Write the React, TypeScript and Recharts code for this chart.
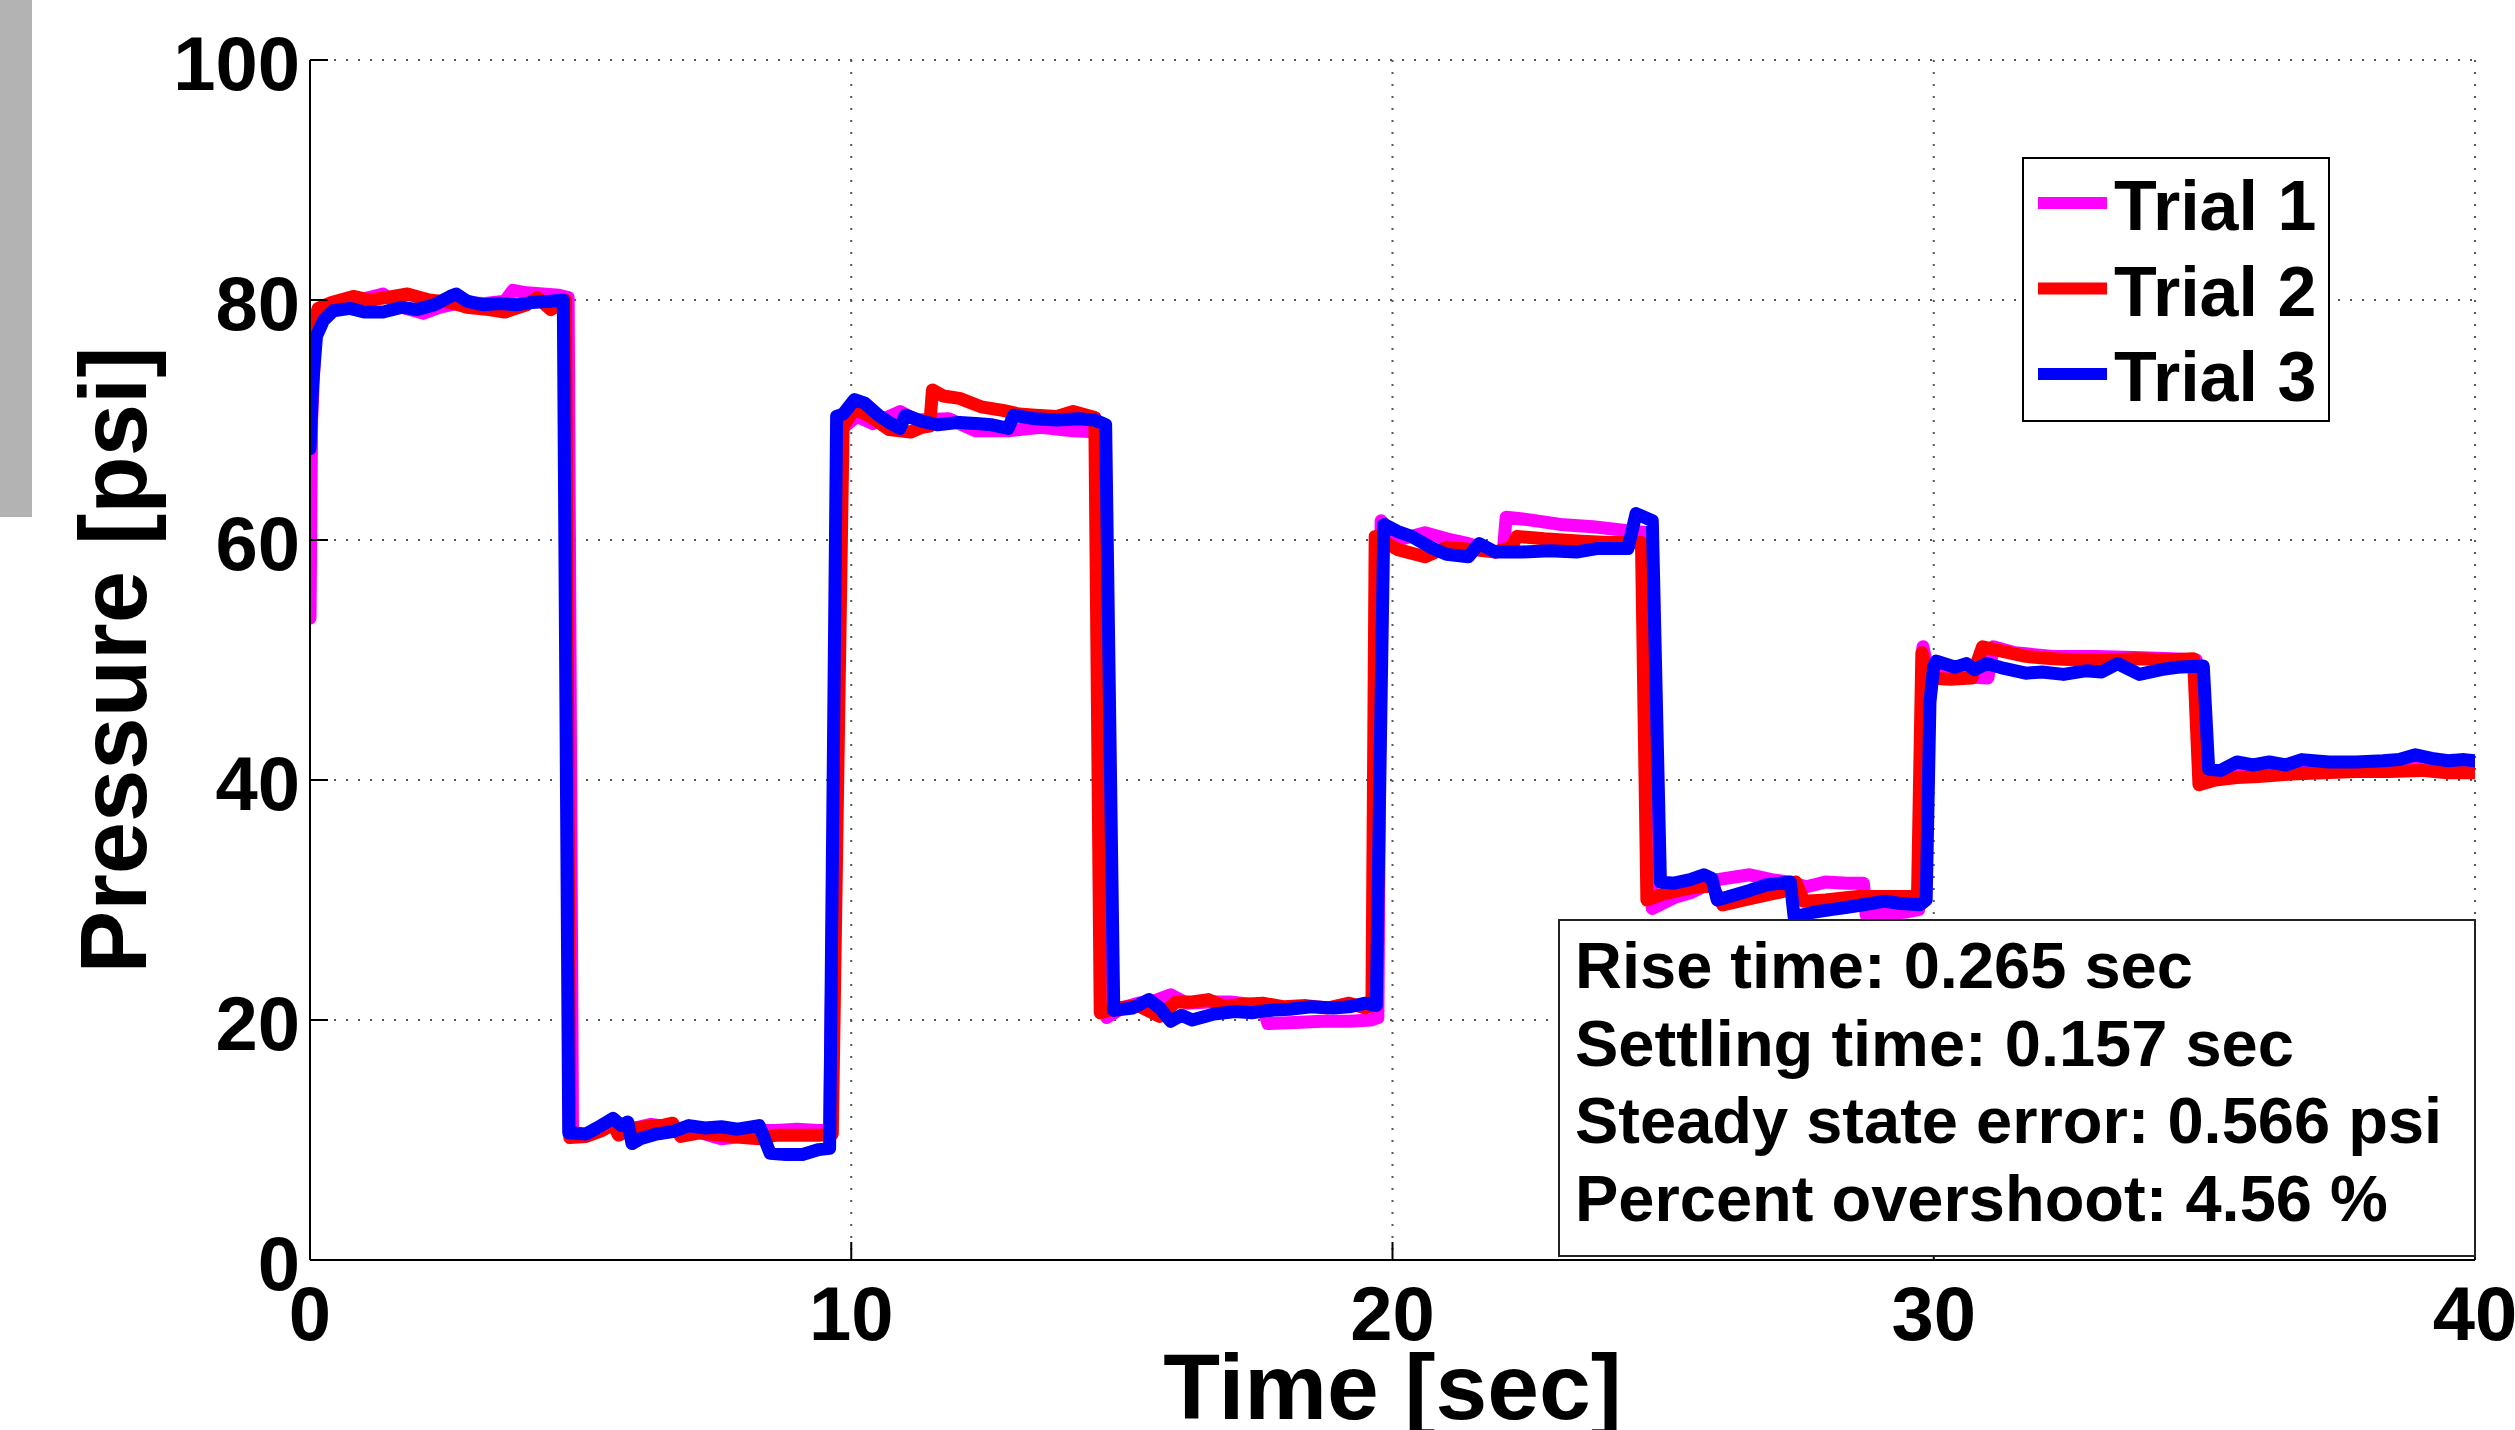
import React from 'react';
import { LineChart, Line, XAxis, YAxis, CartesianGrid, Legend, Label } from 'recharts';

// ---- data (time [sec], pressure [psi]) ----
const trial1: [number, number][] = [
  [0, 53.5], [0.03, 70], [0.1, 77.5], [0.3, 79.3], [0.6, 79.9], [1.0, 80.1], [1.35, 80.5], [1.7, 79.4], [2.1, 78.9],
  [2.4, 79.4], [2.8, 79.8], [3.2, 79.7], [3.6, 79.9], [3.75, 80.8], [4.0, 80.6], [4.3, 80.5], [4.6, 80.4], [4.77, 80.2],
  [4.85, 10.5], [5.1, 10.4], [5.4, 11.0], [5.7, 11.3], [6.0, 11.0], [6.3, 11.3], [6.6, 11.1], [6.9, 10.9], [7.3, 10.5],
  [7.6, 10.1], [8.0, 10.3], [8.3, 10.8], [8.6, 10.8], [9.0, 10.9], [9.4, 10.8], [9.6, 10.9],
  [9.78, 69.1], [10.1, 70.3], [10.4, 69.7], [10.9, 70.7], [11.2, 70.0], [11.8, 70.1], [12.3, 69.1], [12.9, 69.1],
  [13.5, 69.4], [14.1, 69.1], [14.6, 69.0],
  [14.72, 20.2], [15.0, 21.0], [15.3, 21.4], [15.6, 21.6], [15.9, 22.1], [16.2, 21.4], [16.6, 21.5], [17.0, 21.5],
  [17.4, 21.3], [17.6, 21.2], [17.7, 19.7], [18.2, 19.8], [18.7, 19.9], [19.2, 19.9], [19.6, 20.0], [19.73, 20.2],
  [19.79, 61.6], [20.1, 60.0], [20.6, 60.6], [21.0, 60.1], [21.4, 59.7], [21.9, 59.0], [22.05, 59.2], [22.1, 61.9],
  [22.5, 61.7], [23.1, 61.3], [23.7, 61.1], [24.3, 60.8], [24.72, 60.6],
  [24.8, 29.3], [25.2, 30.2], [25.5, 30.6], [26.0, 31.7], [26.6, 32.1], [27.0, 31.7], [27.3, 31.5], [27.65, 31.1],
  [28.0, 31.5], [28.4, 31.4], [28.7, 31.4], [28.75, 28.75], [29.2, 28.9], [29.5, 29.0], [29.72, 29.2],
  [29.8, 51.1], [29.9, 49.0], [30.3, 48.8], [30.6, 48.6], [31.0, 48.5], [31.1, 51.1], [31.5, 50.6], [32.2, 50.3],
  [33.0, 50.3], [33.7, 50.2], [34.4, 50.1], [34.85, 50.0],
  [34.92, 40.0], [35.3, 40.4], [35.8, 40.5], [36.4, 40.7], [37.0, 40.8], [37.7, 40.9], [38.4, 40.9], [39.0, 41.0],
  [39.5, 40.9], [40.0, 41.0],
];

const trial2: [number, number][] = [
  [0, 75.5], [0.06, 78], [0.15, 79.3], [0.4, 79.8], [0.8, 80.3], [1.1, 80.0], [1.4, 80.2], [1.8, 80.5], [2.2, 80.0],
  [2.6, 79.8], [2.9, 79.4], [3.3, 79.2], [3.6, 79.0], [4.0, 79.6], [4.2, 80.2], [4.45, 79.2], [4.72, 80.0],
  [4.8, 10.2], [5.1, 10.3], [5.4, 10.8], [5.6, 11.3], [5.7, 10.4], [5.9, 10.9], [6.2, 11.1], [6.5, 11.2], [6.7, 11.4],
  [6.85, 10.3], [7.2, 10.6], [7.6, 10.4], [8.0, 10.2], [8.3, 10.1], [8.6, 10.4], [9.0, 10.4], [9.4, 10.4], [9.65, 10.5],
  [9.85, 69.5], [10.06, 70.9], [10.35, 70.3], [10.7, 69.2], [11.1, 69.0], [11.3, 69.4], [11.45, 69.5], [11.5, 72.5],
  [11.7, 72.0], [12.0, 71.8], [12.4, 71.1], [12.8, 70.8], [13.1, 70.5], [13.4, 70.4], [13.8, 70.3], [14.1, 70.7], [14.5, 70.2],
  [14.6, 20.6], [14.9, 21.0], [15.3, 21.2], [15.7, 20.3], [16.0, 21.5], [16.3, 21.5], [16.6, 21.7], [16.9, 21.1],
  [17.2, 21.3], [17.6, 21.4], [18.0, 21.1], [18.4, 21.2], [18.8, 21.0], [19.2, 21.4], [19.5, 21.0], [19.62, 21.2],
  [19.68, 60.3], [20.1, 59.2], [20.6, 58.6], [21.0, 59.4], [21.5, 59.2], [21.9, 59.0], [22.2, 59.4], [22.3, 60.3],
  [22.8, 60.1], [23.5, 59.9], [24.0, 59.8], [24.6, 59.8],
  [24.7, 30.0], [25.0, 30.5], [25.5, 31.0], [25.9, 31.25], [26.1, 29.6], [26.5, 30.0], [27.0, 30.5], [27.2, 30.7],
  [27.45, 31.5], [27.6, 29.9], [28.0, 30.0], [28.6, 30.3], [29.2, 30.3], [29.7, 30.3],
  [29.78, 50.6], [29.9, 48.5], [30.3, 48.4], [30.7, 48.5], [30.9, 51.1], [31.3, 50.7], [31.7, 50.3], [32.2, 50.1],
  [32.7, 50.0], [33.2, 50.0], [33.8, 50.1], [34.3, 50.0], [34.8, 50.1],
  [34.9, 39.6], [35.2, 40.0], [35.6, 40.2], [36.0, 40.3], [36.6, 40.5], [37.2, 40.6], [37.8, 40.7], [38.4, 40.7],
  [39.0, 40.8], [39.5, 40.6], [40.0, 40.6],
];

const trial3: [number, number][] = [
  [0, 67.6], [0.05, 73], [0.12, 77.0], [0.25, 78.3], [0.43, 79.1], [0.74, 79.3], [1.0, 79.0], [1.35, 79.0], [1.7, 79.4],
  [1.97, 79.2], [2.3, 79.6], [2.59, 80.3], [2.7, 80.5], [2.9, 79.9], [3.2, 79.6], [3.5, 79.7], [3.82, 79.6], [4.1, 79.8],
  [4.44, 79.9], [4.68, 80.0],
  [4.78, 10.6], [5.1, 10.5], [5.3, 11.0], [5.6, 11.8], [5.75, 11.2], [5.87, 11.5], [5.95, 9.7], [6.1, 10.1], [6.4, 10.5],
  [6.7, 10.7], [7.0, 11.2], [7.3, 11.0], [7.6, 11.1], [7.9, 10.9], [8.3, 11.2], [8.5, 8.9], [8.8, 8.8], [9.1, 8.8],
  [9.4, 9.2], [9.6, 9.3],
  [9.73, 70.3], [9.85, 70.5], [10.06, 71.7], [10.25, 71.4], [10.5, 70.4], [10.7, 69.8], [10.9, 69.3], [11.0, 70.4],
  [11.3, 69.9], [11.6, 69.6], [12.0, 69.8], [12.3, 69.7], [12.6, 69.6], [12.9, 69.3], [13.0, 70.4], [13.4, 70.1],
  [13.8, 70.0], [14.2, 70.1], [14.5, 70.0], [14.7, 69.6],
  [14.85, 20.8], [15.2, 21.0], [15.5, 21.7], [15.7, 21.0], [15.9, 19.9], [16.1, 20.4], [16.3, 20.0], [16.7, 20.5],
  [17.1, 20.7], [17.4, 20.6], [17.7, 20.8], [18.1, 20.9], [18.5, 21.1], [18.9, 21.0], [19.2, 21.1], [19.5, 21.4], [19.7, 21.2],
  [19.84, 61.3], [20.1, 60.7], [20.35, 60.3], [20.7, 59.4], [21.0, 58.8], [21.4, 58.6], [21.6, 59.7], [21.9, 59.0],
  [22.4, 59.0], [22.9, 59.1], [23.4, 59.0], [23.8, 59.3], [24.35, 59.3], [24.5, 62.2], [24.8, 61.6],
  [24.95, 31.5], [25.2, 31.4], [25.5, 31.7], [25.75, 32.1], [25.9, 31.8], [26.0, 30.0], [26.3, 30.4], [26.6, 30.8],
  [26.9, 31.25], [27.35, 31.5], [27.42, 28.6], [27.8, 29.0], [28.1, 29.2], [28.4, 29.4], [28.7, 29.6], [29.1, 29.9],
  [29.4, 29.7], [29.75, 29.6], [29.86, 30.0],
  [29.93, 46.5], [30.0, 49.5], [30.05, 49.9], [30.4, 49.4], [30.6, 49.7], [30.75, 49.2], [30.98, 49.7], [31.3, 49.3],
  [31.7, 48.9], [32.0, 49.0], [32.4, 48.8], [32.8, 49.1], [33.1, 49.0], [33.4, 49.7], [33.8, 48.8], [34.2, 49.2],
  [34.5, 49.4], [34.98, 49.5],
  [35.08, 40.9], [35.3, 40.8], [35.6, 41.5], [35.9, 41.25], [36.2, 41.5], [36.5, 41.25], [36.8, 41.7], [37.3, 41.5],
  [37.8, 41.5], [38.3, 41.6], [38.6, 41.7], [38.9, 42.1], [39.2, 41.8], [39.5, 41.6], [39.8, 41.7], [40.0, 41.6],
];

const seriesNames = ['Trial 1', 'Trial 2', 'Trial 3'];
const seriesColors = ['#FF00FF', '#FF0000', '#0000FF'];
const xTicks = [0, 10, 20, 30, 40];
const yTicks = [0, 20, 40, 60, 80, 100];
const statsLines = [
  'Rise time: 0.265 sec',
  'Settling time: 0.157 sec',
  'Steady state error: 0.566 psi',
  'Percent overshoot: 4.56 %',
];

const toRows = (arr: [number, number][]) => arr.map(([t, p]) => ({ t, p }));
const seriesData = [toRows(trial1), toRows(trial2), toRows(trial3)];

const FONT = '"Liberation Sans", Arial, Helvetica, sans-serif';

const YTick = (props: any) => {
  const { x, y, payload } = props;
  return (
    <text x={x} y={y + 30} textAnchor="end" fontSize={76} fontWeight="bold" fontFamily={FONT} fill="#000">
      {payload.value}
    </text>
  );
};

const XTick = (props: any) => {
  const { x, y, payload } = props;
  return (
    <text x={x} y={y + 80} textAnchor="middle" fontSize={76} fontWeight="bold" fontFamily={FONT} fill="#000">
      {payload.value}
    </text>
  );
};

const NoTick = () => <g />;

const YLabel = (props: any) => {
  const vb = props.viewBox || { x: 0, y: 60, width: 310, height: 1200 };
  const x = vb.x + 146;
  const y = vb.y + vb.height / 2;
  return (
    <text x={x} y={y} transform={`rotate(-90 ${x} ${y})`} textAnchor="middle" fontSize={94} fontWeight="bold" fontFamily={FONT} fill="#000">
      Pressure [psi]
    </text>
  );
};

const XLabel = (props: any) => {
  const vb = props.viewBox || { x: 310, y: 1260, width: 2165, height: 170 };
  return (
    <text x={vb.x + vb.width / 2} y={vb.y + 159} textAnchor="middle" fontSize={93} fontWeight="bold" fontFamily={FONT} fill="#000">
      Time [sec]
    </text>
  );
};

const LegendBox = (props: any) => {
  const payload = props.payload || [];
  return (
    <svg width={308} height={265} style={{ display: 'block' }}>
      <rect x={1} y={1} width={306} height={263} fill="#fff" stroke="#000" strokeWidth={2} />
      {payload.map((entry: any, i: number) => (
        <g key={entry.value}>
          <rect x={16} y={40 + i * 85.5} width={69} height={12} fill={entry.color} />
          <text x={92} y={73 + i * 85.5} fontSize={70} fontWeight="bold" fontFamily={FONT} fill="#000">
            {entry.value}
          </text>
        </g>
      ))}
    </svg>
  );
};

export default function App() {
  return (
    <div style={{ position: 'absolute', left: 0, top: 0, width: 2515, height: 1430, background: '#fff', overflow: 'hidden' }}>
      <LineChart width={2515} height={1430} margin={{ top: 60, right: 40, bottom: 0, left: 0 }}>
        <CartesianGrid stroke="#555" strokeDasharray="2 10" strokeWidth={2} />
        <XAxis
          dataKey="t"
          type="number"
          domain={[0, 40]}
          ticks={xTicks}
          allowDataOverflow
          height={170}
          axisLine={{ stroke: '#000', strokeWidth: 2 }}
          tickLine={{ stroke: '#000', strokeWidth: 2 }}
          tickSize={-18}
          tickMargin={18}
          tick={XTick}
        >
          <Label content={XLabel} />
        </XAxis>
        <XAxis
          xAxisId="top"
          orientation="top"
          dataKey="t"
          type="number"
          domain={[0, 40]}
          ticks={xTicks}
          height={0}
          axisLine={{ stroke: '#000', strokeWidth: 2 }}
          tickLine={{ stroke: '#000', strokeWidth: 2 }}
          tickSize={-18}
          tick={NoTick}
        />
        <YAxis
          type="number"
          domain={[0, 100]}
          ticks={yTicks}
          allowDataOverflow
          width={310}
          axisLine={{ stroke: '#000', strokeWidth: 2 }}
          tickLine={{ stroke: '#000', strokeWidth: 2 }}
          tickSize={-18}
          tickMargin={28}
          tick={YTick}
        >
          <Label content={YLabel} />
        </YAxis>
        <YAxis
          yAxisId="right"
          orientation="right"
          type="number"
          domain={[0, 100]}
          ticks={yTicks}
          width={0}
          axisLine={{ stroke: '#000', strokeWidth: 2 }}
          tickLine={{ stroke: '#000', strokeWidth: 2 }}
          tickSize={-18}
          tick={NoTick}
        />
        {seriesData.map((d, i) => (
          <Line
            key={seriesNames[i]}
            data={d}
            dataKey="p"
            name={seriesNames[i]}
            type="linear"
            stroke={seriesColors[i]}
            strokeWidth={13}
            strokeLinejoin="round"
            strokeLinecap="round"
            dot={false}
            activeDot={false}
            isAnimationActive={false}
          />
        ))}
        <Legend
          layout="vertical"
          align="center"
          verticalAlign="middle"
          content={LegendBox}
          wrapperStyle={{ position: 'absolute', left: 2022, top: 157, width: 308, height: 265 }}
        />
      </LineChart>

      {/* statistics text box */}
      <svg style={{ position: 'absolute', left: 1558, top: 919 }} width={919} height={340}>
        <rect x={1} y={1} width={916} height={336} fill="#fff" stroke="#222" strokeWidth={2} />
        {statsLines.map((s, i) => (
          <text key={s} x={17} y={69 + i * 77.7} fontSize={65} fontWeight="bold" fontFamily={FONT} fill="#000">
            {s}
          </text>
        ))}
      </svg>

      {/* gray strip at the left edge */}
      <div style={{ position: 'absolute', left: 0, top: 0, width: 32, height: 517, background: '#B3B3B3' }} />
    </div>
  );
}
